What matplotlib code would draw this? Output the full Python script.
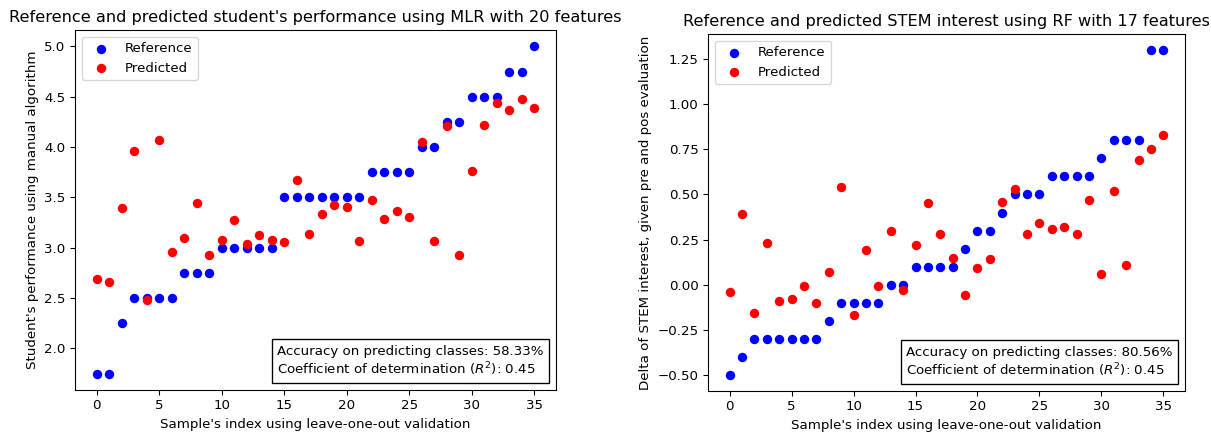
import matplotlib
matplotlib.use('Agg')
import matplotlib.pyplot as plt
import numpy as np
from matplotlib.offsetbox import AnchoredText

# Left chart: student's performance (MLR, 20 features)
perf_ref = [1.75, 1.75, 2.25, 2.5, 2.5, 2.5, 2.5, 2.75, 2.75, 2.75,
            3.0, 3.0, 3.0, 3.0, 3.0, 3.5, 3.5, 3.5, 3.5, 3.5,
            3.5, 3.5, 3.75, 3.75, 3.75, 3.75, 4.0, 4.0, 4.25, 4.25,
            4.5, 4.5, 4.5, 4.75, 4.75, 5.0]
perf_pred = [2.69, 2.66, 3.39, 3.96, 2.48, 4.07, 2.96, 3.10, 3.44, 2.93,
             3.08, 3.28, 3.04, 3.13, 3.08, 3.06, 3.67, 3.14, 3.34, 3.42,
             3.40, 3.07, 3.47, 3.29, 3.37, 3.31, 4.05, 3.07, 4.21, 2.93,
             3.76, 4.22, 4.44, 4.37, 4.48, 4.39]

# Right chart: STEM interest (RF, 17 features)
stem_ref = [-0.5, -0.4, -0.3, -0.3, -0.3, -0.3, -0.3, -0.3, -0.2, -0.1,
            -0.1, -0.1, -0.1, 0.0, 0.0, 0.1, 0.1, 0.1, 0.1, 0.2,
            0.3, 0.3, 0.4, 0.5, 0.5, 0.5, 0.6, 0.6, 0.6, 0.6,
            0.7, 0.8, 0.8, 0.8, 1.3, 1.3]
stem_pred = [-0.04, 0.39, -0.16, 0.23, -0.09, -0.08, -0.01, -0.10, 0.07, 0.54,
             -0.17, 0.19, -0.01, 0.30, -0.03, 0.22, 0.45, 0.28, 0.15, -0.06,
             0.09, 0.14, 0.46, 0.53, 0.28, 0.34, 0.31, 0.32, 0.28, 0.47,
             0.06, 0.52, 0.11, 0.69, 0.75, 0.83]

acc_left = 58.33
acc_right = 80.56
r2_left = 0.45
r2_right = 0.45

W, H = 1211, 433
DPI = 96.7
fig = plt.figure(figsize=(W / DPI, H / DPI), dpi=DPI)

def px_axes(x0, y0, x1, y1):
    # pixel box (top-left origin) -> figure fraction
    return fig.add_axes([x0 / W, (H - y1) / H, (x1 - x0) / W, (y1 - y0) / H])

ax1 = px_axes(75, 30, 556, 390)
ax2 = px_axes(708, 34, 1185, 391)

def draw(ax, ref, pred, title, ylabel, acc, r2):
    x = np.arange(len(ref))
    ax.scatter(x, ref, c='blue', label='Reference')
    ax.scatter(x, pred, c='red', label='Predicted')
    ax.set_title(title)
    ax.set_xlabel("Sample's index using leave-one-out validation")
    ax.set_ylabel(ylabel)
    ax.legend(loc='upper left')
    txt = 'Accuracy on predicting classes: {:.2f}%\nCoefficient of determination ($R^2$): {:.2f}'.format(acc, r2)
    at = AnchoredText(txt, loc='lower right', prop=dict(size=10))
    ax.add_artist(at)

draw(ax1, perf_ref, perf_pred,
     "Reference and predicted student's performance using MLR with 20 features",
     "Student's performance using manual algorithm", acc_left, r2_left)
draw(ax2, stem_ref, stem_pred,
     "Reference and predicted STEM interest using RF with 17 features",
     "Delta of STEM interest, given pre and pos evaluation", acc_right, r2_right)

fig.savefig('out.png', dpi=DPI)
